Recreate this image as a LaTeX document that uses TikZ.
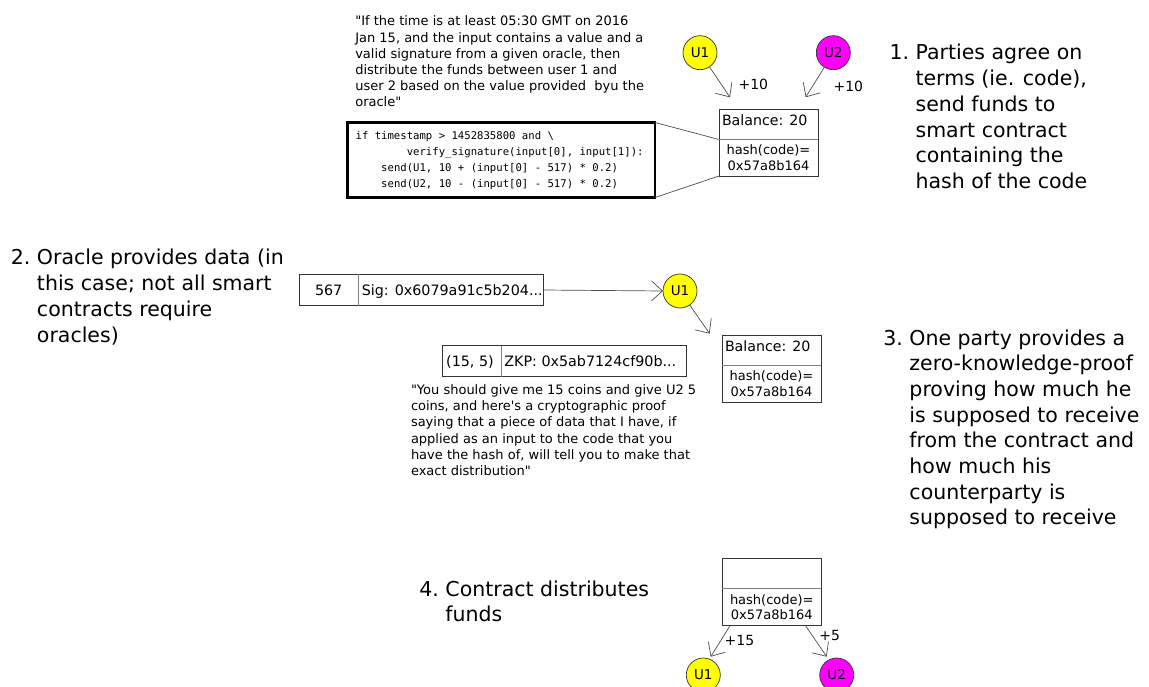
\documentclass[tikz,border=0pt]{standalone}
\usepackage{fontspec}
\usetikzlibrary{arrows.meta}
\newfontfamily\dejavu{DejaVu Sans}
\newfontfamily\dejavumono{DejaVu Sans Mono}
\newcommand\fsz[2]{\dejavu\fontsize{#1}{#2}\selectfont}
% a blank exactly one monospaced character wide
\newcommand\cgap{\phantom{0}}
\definecolor{useryellow}{RGB}{255,255,0}
\definecolor{usermagenta}{RGB}{255,0,255}

% contract box: name, x and y of the top-left corner
\newcommand\contractbox[3]{%
  \node[contract] (#1) at (#2,#3) {};
  \draw[divider] ([yshift=-30.5pt]#1.north west) -- ([yshift=-30.5pt]#1.north east);
  \node[hashtext] (#1hash) at ([yshift=-45.7pt]#1.north)
    {\begin{tabular}[t]{@{}c@{}}hash(code)=\\0x57a8b164\end{tabular}};
}

\begin{document}
\begin{tikzpicture}[x=1pt, y=-1pt,
  every node/.style={inner sep=0pt, outer sep=0pt},
  steptext/.style={anchor=base west, font=\fsz{20.5}{25.7}},
  quote/.style={anchor=base west, font=\fsz{13}{16.2}},
  user/.style={circle, draw=black!80, line width=0.7pt, minimum size=34pt, font=\fsz{13.5}{16}},
  userone/.style={user, fill=useryellow},
  usertwo/.style={user, fill=usermagenta},
  frame/.style={draw=black!80, line width=0.8pt},
  contract/.style={frame, anchor=north west, minimum width=99pt, minimum height=67pt},
  divider/.style={draw=black!50, line width=0.8pt},
  balance/.style={anchor=base west, font=\fsz{14.2}{16}},
  hashtext/.style={anchor=base, font=\fsz{13}{15.7}},
  celltext/.style={font=\fsz{14.3}{16}},
  amount/.style={font=\fsz{14}{16}},
  link/.style={draw=black!70, line width=0.7pt},
  flow/.style={link, -{Straight Barb[length=11pt, width=20pt]}},
  codebox/.style={draw=black, line width=2.2pt, anchor=north west,
    minimum width=307.5pt, minimum height=75pt, text width=291.3pt, align=left,
    font=\dejavumono\fontsize{10.63}{16.1}\selectfont}
]
\useasboundingbox (0,0) rectangle (1149,687);

% ---------- step 1: agreeing on the code ----------
\node[quote] (q1) at (355.3,26) {\begin{tabular}[t]{@{}l@{}}
"If the time is at least 05:30 GMT on 2016\\
Jan 15, and the input contains a value and a\\
valid signature from a given oracle, then\\
distribute the funds between user 1 and\\
user 2 based on the value provided\ \ byu the\\
oracle"\end{tabular}};

\node[codebox] (code) at (347.5,122.5) {\begin{tabular}{@{}l@{}}
if\cgap timestamp\cgap >\cgap 1452835800\cgap and\cgap\textbackslash\\
\phantom{00000000}verify\_signature(input[0],\cgap input[1]):\\
\phantom{0000}send(U1,\cgap 10\cgap +\cgap (input[0]\cgap -\cgap 517)\cgap *\cgap 0.2)\\
\phantom{0000}send(U2,\cgap 10\cgap -\cgap (input[0]\cgap -\cgap 517)\cgap *\cgap 0.2)\end{tabular}};

\contractbox{cA}{719}{109}
\node[balance] (cAbal) at ([xshift=3pt, yshift=-16.2pt]cA.north west) {Balance: 20};
\coordinate (cAdiv) at ([yshift=-30.5pt]cA.north west);
\draw[link] (code.north east) -- (cAdiv);
\draw[link] (code.south east) -- (cA.south west);

\node[userone] (uA) at (700,52.7) {U1};
\node[usertwo] (uB) at (833.3,52.7) {U2};
\coordinate (tA) at (730,97.3);
\coordinate (tB) at (805.7,97.3);
\draw[flow] (uA) -- (tA);
\draw[flow] (uB) -- (tB);
\node[amount] (pA) at (753.3,84.3) {+10};
\node[amount] (pB) at (848.3,86.7) {+10};

\node[steptext] (s1) at (889.5,60) {\begin{tabular}[t]{@{}l@{\ }l@{}}
1. & Parties agree on\\
 & terms (ie. code),\\
 & send funds to\\
 & smart contract\\
 & containing the\\
 & hash of the code\end{tabular}};

% ---------- step 2: the oracle ----------
\node[steptext] (s2) at (10.9,265) {\begin{tabular}[t]{@{}l@{\ }l@{}}
2. & Oracle provides data (in\\
 & this case; not all smart\\
 & contracts require\\
 & oracles)\end{tabular}};

\node[frame, minimum width=244.3pt, minimum height=31.4pt] (sig) at (421.15,290) {};
\draw[divider] ([xshift=59.3pt]sig.north west) -- ([xshift=59.3pt]sig.south west);
\node[celltext, anchor=base] (sigv) at (328.7,295.2) {567};
\node[celltext, anchor=base west] (sigt) at (361.8,295.2) {Sig: 0x6079a91c5b204...};

\node[userone] (uM) at (680,291) {U1};
\draw[flow] (sig.east) -- (uM.west);
\coordinate (tM) at (709.6,333.6);
\draw[flow] (uM) -- (tM);

% ---------- step 3: the zero-knowledge proof ----------
\contractbox{cB}{722}{335}
\node[balance] (cBbal) at ([xshift=3pt, yshift=-16.2pt]cB.north west) {Balance: 20};

\node[frame, minimum width=244.4pt, minimum height=31pt] (zkp) at (564.5,361.2) {};
\draw[divider] ([xshift=59.4pt]zkp.north west) -- ([xshift=59.4pt]zkp.south west);
\node[celltext, anchor=base] (zkpv) at (470,366.3) {(15, 5)};
\node[celltext, anchor=base west] (zkpt) at (504.4,366.3) {ZKP: 0x5ab7124cf90b...};

\node[quote] (q2) at (411,394.5) {\begin{tabular}[t]{@{}l@{}}
"You should give me 15 coins and give U2 5\\
coins, and here's a cryptographic proof\\
saying that a piece of data that I have, if\\
applied as an input to the code that you\\
have the hash of, will tell you to make that\\
exact distribution"\end{tabular}};

\node[steptext] (s3) at (883.4,345) {\begin{tabular}[t]{@{}l@{\ }l@{}}
3. & One party provides a\\
 & zero-knowledge-proof\\
 & proving how much he\\
 & is supposed to receive\\
 & from the contract and\\
 & how much his\\
 & counterparty is\\
 & supposed to receive\end{tabular}};

% ---------- step 4: payout ----------
\node[steptext] (s4) at (419.4,596) {\begin{tabular}[t]{@{}l@{\ }l@{}}
4. & Contract distributes\\
 & funds\end{tabular}};

\contractbox{cC}{722.3}{558.3}
\node[userone] (uC) at (703.3,675) {U1};
\node[usertwo] (uD) at (836.7,675) {U2};
\coordinate (bC) at ([xshift=8pt]cC.south west);
\coordinate (bD) at ([xshift=-16pt]cC.south east);
\coordinate (tC) at (710.7,656.7);
\coordinate (tD) at (826.7,656.7);
\draw[flow] (bC) -- (tC);
\draw[flow] (bD) -- (tD);
\node[amount] (pC) at (739.5,640) {+15};
\node[amount] (pD) at (829.7,635) {+5};
\end{tikzpicture}
\end{document}
